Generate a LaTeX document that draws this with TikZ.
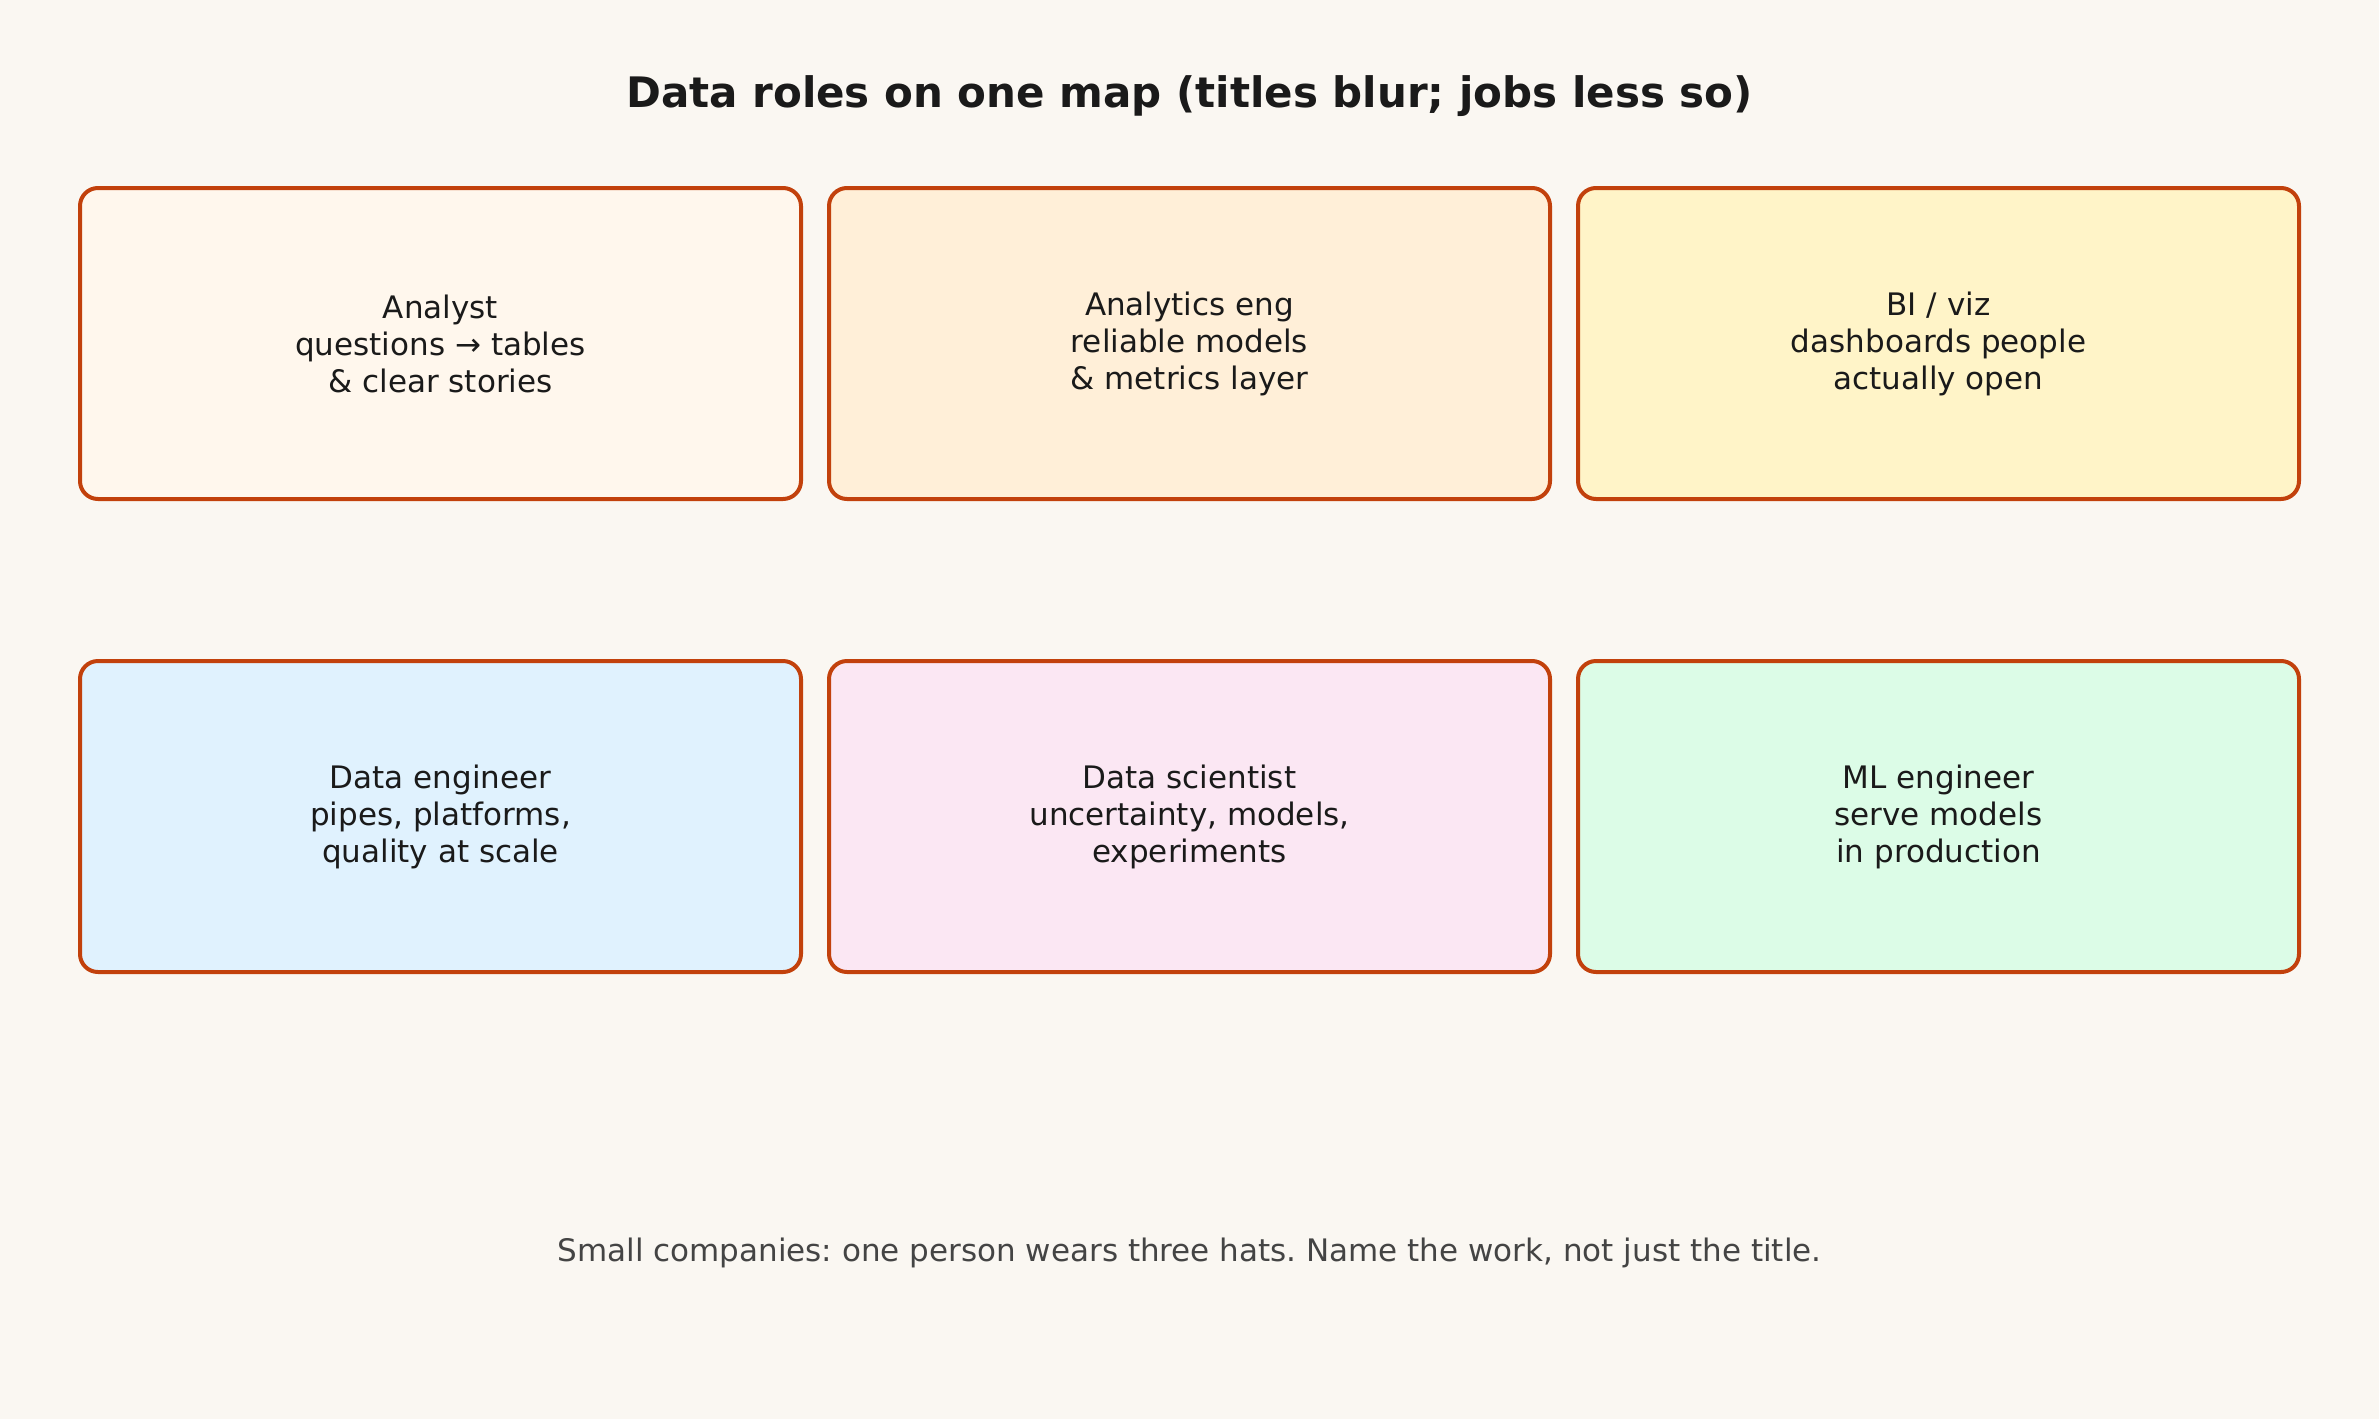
\documentclass[tikz,border=0pt]{standalone}
\usepackage{fontspec}
\setmainfont{DejaVu Sans}
\frenchspacing
\definecolor{bgc}{HTML}{FAF7F2}
\definecolor{edgec}{HTML}{C2410C}
\definecolor{fA}{HTML}{FFF7ED}
\definecolor{fB}{HTML}{FFEFD8}
\definecolor{fC}{HTML}{FFF4C8}
\definecolor{fD}{HTML}{E0F2FE}
\definecolor{fE}{HTML}{FBE7F3}
\definecolor{fF}{HTML}{DCFCE7}
\definecolor{txtc}{HTML}{1A1A1A}
\definecolor{footc}{HTML}{444444}
\begin{document}
\begin{tikzpicture}[x=1pt,y=-1pt,
  rolebox/.style={draw=edgec,line width=4pt,rounded corners=18pt,minimum width=721pt,minimum height=311pt,inner sep=0pt,align=center,text=txtc,font=\fontsize{31}{37}\selectfont}]
\fill[bgc] (0,0) rectangle (2379,1419);
\useasboundingbox (0,0) rectangle (2379,1419);
\node[font=\fontsize{42}{48}\selectfont\bfseries,text=txtc] (title) at (1189.5,96) {Data roles on one map (titles blur; jobs less so)};
\node[rolebox,fill=fA] (analyst) at (440.5,343.5) {Analyst\\questions → tables\\\& clear stories};
\node[rolebox,fill=fB] (aeng) at (1189.5,343.5) {Analytics eng\\reliable models\\\& metrics layer};
\node[rolebox,fill=fC] (bi) at (1938.5,343.5) {BI / viz\\dashboards people\\actually open};
\node[rolebox,fill=fD] (deng) at (440.5,816.5) {Data engineer\\pipes, platforms,\\quality at scale};
\node[rolebox,fill=fE] (dsci) at (1189.5,816.5) {Data scientist\\uncertainty, models,\\experiments};
\node[rolebox,fill=fF] (mleng) at (1938.5,816.5) {ML engineer\\serve models\\in production};
\node[font=\fontsize{31}{37}\selectfont,text=footc] (foot) at (1189.5,1253) {Small companies: one person wears three hats. Name the work, not just the title.};
\end{tikzpicture}
\end{document}
